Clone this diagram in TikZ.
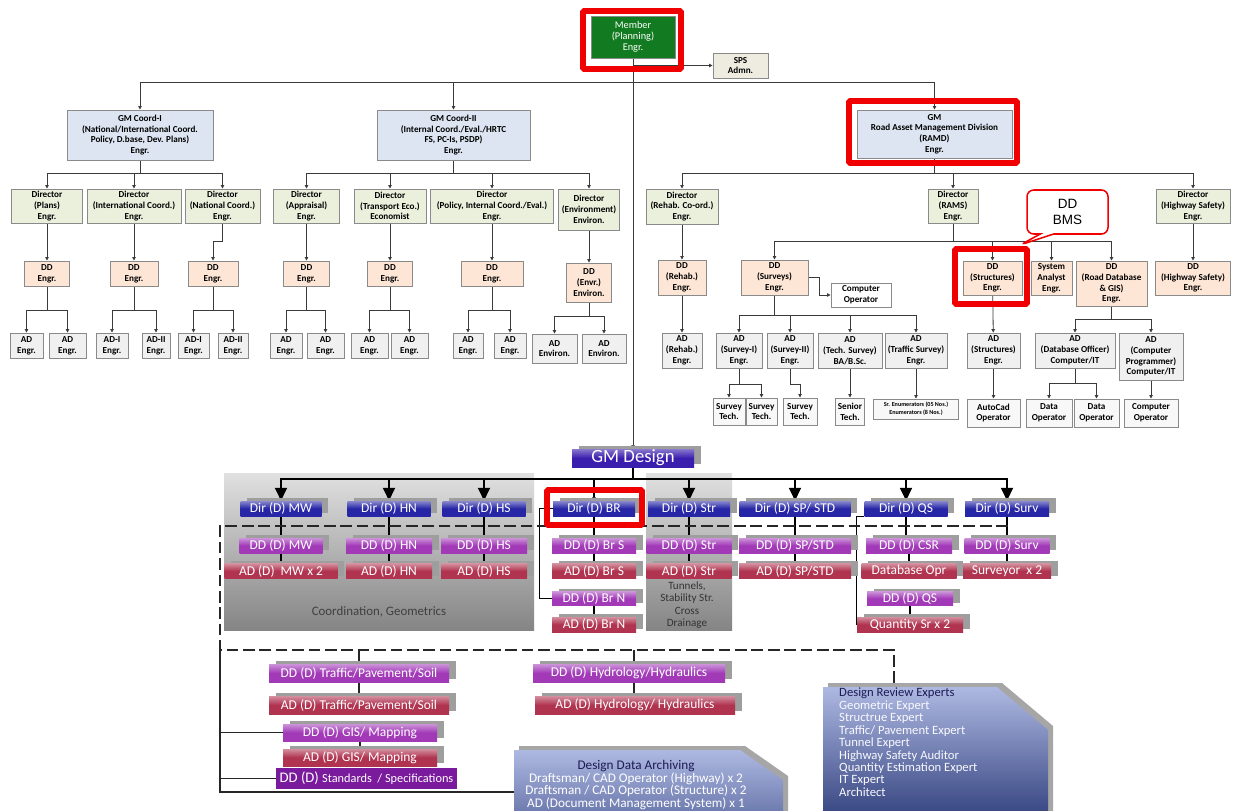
\documentclass[tikz,border=0pt]{standalone}
\usepackage{fontspec}
\setmainfont{Carlito}
\newfontfamily\bmsfont{Liberation Sans}
\usetikzlibrary{arrows.meta,shadows,shapes.callouts}

\definecolor{gmfill}{HTML}{DCE5F1}
\definecolor{dirfill}{HTML}{EBF0DD}
\definecolor{ddfill}{HTML}{FDE6D6}
\definecolor{adfill}{HTML}{F0F0F0}
\definecolor{opfill}{HTML}{F8F8F8}
\definecolor{spsfill}{HTML}{EEECE1}
\definecolor{memgreen}{HTML}{127A20}
\definecolor{boxline}{HTML}{8A8A8A}
\definecolor{linegray}{HTML}{3A3A3A}
\definecolor{hlred}{HTML}{F00000}
\definecolor{dirblue}{HTML}{2626A6}
\definecolor{ddpurple}{HTML}{A23AB8}
\definecolor{adred}{HTML}{B0334F}
\definecolor{gmdblue}{HTML}{3A1EAE}
\definecolor{stdpurple}{HTML}{7A1A9C}
\definecolor{revtop}{HTML}{AEB9E2}
\definecolor{revbot}{HTML}{3A4884}
\definecolor{revhead}{HTML}{1C1C55}

\pgfdeclarelayer{panel}
\pgfdeclarelayer{edges}
\pgfsetlayers{panel,edges,main}

\begin{document}
\begin{tikzpicture}[x=0.03cm, y=-0.03cm,
    >={Triangle[length=3pt,width=3pt]},
    sz/.style 2 args={minimum width=#1*0.03cm, minimum height=#2*0.03cm},
    org/.style={draw=boxline, line width=0.8pt, inner sep=0pt, align=center,
      font=\bfseries\fontsize{7.8}{9.2}\selectfont},
    gmbox/.style={org, fill=gmfill},
    dirbox/.style={org, fill=dirfill},
    ddbox/.style={org, fill=ddfill},
    adbox/.style={org, fill=adfill},
    opbox/.style={org, fill=opfill},
    conn/.style={draw=linegray, line width=0.7pt},
    dsgn/.style={inner sep=0pt, align=center, text=white,
      font=\fontsize{11.5}{13}\selectfont,
      drop shadow={shadow xshift=0.2cm, shadow yshift=0.09cm, fill=black!38, opacity=1}},
    dirdbox/.style={dsgn, top color=dirblue!55!white, bottom color=dirblue, middle color=dirblue},
    dddbox/.style={dsgn, top color=ddpurple!55!white, bottom color=ddpurple, middle color=ddpurple},
    addbox/.style={dsgn, top color=adred!55!white, bottom color=adred, middle color=adred},
    lnk/.style={draw=black, line width=0.9pt},
    lnkb/.style={draw=black!85, line width=1.3pt},
    bigln/.style={draw=black, line width=2.2pt},
    bigarr/.style={bigln, -{Triangle[length=11pt,width=10pt]}},
    dsh/.style={draw=black!85, line width=2pt, dash pattern=on 10pt off 4pt},
    hl/.style={draw=hlred, line width=5pt, rounded corners=1pt},
  ]
\useasboundingbox (0,0) rectangle (1233,810);

% Panels
\begin{pgfonlayer}{panel}
\fill[white] (0,0) rectangle (1233,810);
\shade[top color=black!12, bottom color=black!48] (224,473) rectangle (534,630);
\shade[top color=black!12, bottom color=black!48] (646,473) rectangle (732,630);
\end{pgfonlayer}

% Nodes: planning chart
\node[org, fill=memgreen, text=white, font=\fontsize{8.8}{9.2}\selectfont, sz={84}{42}] (member) at (633,37) {Member\\(Planning)\\Engr.};
\node[org, fill=spsfill, sz={55}{25}] (sps) at (740.5,65.5) {SPS\\Admn.};

\node[gmbox, sz={146}{50}] (gmc1) at (140,135) {GM Coord-I\\(National/International Coord.\\Policy, D.base, Dev. Plans)\\Engr.};
\node[gmbox, sz={153}{50}] (gmc2) at (453.5,135) {GM Coord-II\\(Internal Coord./Eval./HRTC\\FS, PC-Is, PSDP)\\Engr.};
\node[gmbox, sz={155}{48}] (gmram) at (934.5,134) {GM\\Road Asset Management Division\\(RAMD)\\Engr.};

\node[dirbox, sz={71}{34}] (dplans) at (47,206) {Director\\(Plans)\\Engr.};
\node[dirbox, sz={94}{34}] (dintl) at (134,206) {Director\\(International Coord.)\\Engr.};
\node[dirbox, sz={75}{34}] (dnat) at (222.5,206) {Director\\(National Coord.)\\Engr.};
\node[dirbox, sz={66}{34}] (dappr) at (306.5,206) {Director\\(Appraisal)\\Engr.};
\node[dirbox, sz={72}{34}] (dtrans) at (390,206) {Director\\(Transport Eco.)\\Economist};
\node[dirbox, sz={123}{34}] (dpol) at (492,206) {Director\\(Policy, Internal Coord./Eval.)\\Engr.};
\node[dirbox, sz={61}{41}] (denv) at (589,209.5) {Director\\(Environment)\\Environ.};
\node[dirbox, sz={72}{35}] (drehab) at (682,206.5) {Director\\(Rehab. Co-ord.)\\Engr.};
\node[dirbox, sz={50}{34}] (drams) at (953,206) {Director\\(RAMS)\\Engr.};
\node[dirbox, sz={74}{34}] (dhws) at (1193,206) {Director\\(Highway Safety)\\Engr.};

\node[ddbox, sz={45}{25}] (ddplans) at (47,273.5) {DD\\Engr.};
\node[ddbox, sz={48}{25}] (ddintl) at (134,273.5) {DD\\Engr.};
\node[ddbox, sz={50}{25}] (ddnat) at (213,273.5) {DD\\Engr.};
\node[ddbox, sz={46}{25}] (ddappr) at (306.5,273.5) {DD\\Engr.};
\node[ddbox, sz={45}{25}] (ddtrans) at (390,273.5) {DD\\Engr.};
\node[ddbox, sz={62}{25}] (ddpol) at (492,273.5) {DD\\Engr.};
\node[ddbox, sz={45}{39}] (ddenv) at (589,282.5) {DD\\(Envr.)\\Environ.};
\node[ddbox, sz={48}{35}] (ddrehab) at (682,277.5) {DD\\(Rehab.)\\Engr.};
\node[ddbox, sz={67}{35}] (ddsurv) at (774.5,277.5) {DD\\(Surveys)\\Engr.};
\node[org, fill=white, sz={60}{24}] (cop1) at (861,295) {Computer\\Operator};
\node[ddbox, sz={59}{34}] (ddstr) at (992.5,278) {DD\\(Structures)\\Engr.};
\node[ddbox, sz={41}{34}] (sysan) at (1051.5,278) {System\\Analyst\\Engr.};
\node[ddbox, sz={71}{45}] (ddrdb) at (1111.5,283.5) {DD\\(Road Database\\\& GIS)\\Engr.};
\node[ddbox, sz={75}{34}] (ddhws) at (1193,278) {DD\\(Highway Safety)\\Engr.};

\node[adbox, sz={33}{25}] (ad1a) at (26.5,345.5) {AD\\Engr.};
\node[adbox, sz={37}{25}] (ad1b) at (67.5,345.5) {AD\\Engr.};
\node[adbox, sz={32}{25}] (ad2a) at (112,345.5) {AD-I\\Engr.};
\node[adbox, sz={28}{25}] (ad2b) at (156,345.5) {AD-II\\Engr.};
\node[adbox, sz={31}{25}] (ad3a) at (193.5,345.5) {AD-I\\Engr.};
\node[adbox, sz={30}{25}] (ad3b) at (233,345.5) {AD-II\\Engr.};
\node[adbox, sz={32}{25}] (ad4a) at (286,345.5) {AD\\Engr.};
\node[adbox, sz={37}{25}] (ad4b) at (325.5,345.5) {AD\\Engr.};
\node[adbox, sz={37}{25}] (ad5a) at (369.5,345.5) {AD\\Engr.};
\node[adbox, sz={37}{25}] (ad5b) at (409.5,345.5) {AD\\Engr.};
\node[adbox, sz={30}{25}] (ad6a) at (468,345.5) {AD\\Engr.};
\node[adbox, sz={32}{25}] (ad6b) at (510,345.5) {AD\\Engr.};
\node[adbox, sz={45}{29}] (ad7a) at (554.5,348.5) {AD\\Environ.};
\node[adbox, sz={44}{29}] (ad7b) at (604,348.5) {AD\\Environ.};
\node[adbox, sz={40}{35}] (adrehab) at (682,350.5) {AD\\(Rehab.)\\Engr.};
\node[adbox, sz={46}{35}] (adsv1) at (739,350.5) {AD\\(Survey-I)\\Engr.};
\node[adbox, sz={46}{35}] (adsv2) at (790,350.5) {AD\\(Survey-II)\\Engr.};
\node[adbox, sz={64}{35}] (adtech) at (850,350.5) {AD\\(Tech. Survey)\\BA/B.Sc.};
\node[adbox, sz={62}{35}] (adtraf) at (916,350.5) {AD\\(Traffic Survey)\\Engr.};
\node[adbox, sz={53}{35}] (adstr) at (993.5,350.5) {AD\\(Structures)\\Engr.};
\node[adbox, sz={80}{35}] (addbo) at (1075,350.5) {AD\\(Database Officer)\\Computer/IT};
\node[adbox, sz={64}{47}] (adcp) at (1151,356.5) {AD\\(Computer\\Programmer)\\Computer/IT};

\node[opbox, sz={32}{27}] (st1) at (729,411.5) {Survey\\Tech.};
\node[opbox, sz={31}{27}] (st2) at (761.5,411.5) {Survey\\Tech.};
\node[opbox, sz={34}{27}] (st3) at (800,411.5) {Survey\\Tech.};
\node[opbox, sz={29}{27}] (sentech) at (850,411.5) {Senior\\Tech.};
\node[opbox, sz={85}{20}, font=\bfseries\fontsize{5.2}{7}\selectfont] (enum) at (916,409) {Sr. Enumerators (05 Nos.)\\Enumerators (8 Nos.)};
\node[opbox, sz={53}{28}] (autocad) at (993.5,413) {AutoCad\\Operator};
\node[opbox, sz={46}{28}] (dop1) at (1049,413) {Data\\Operator};
\node[opbox, sz={45}{28}] (dop2) at (1096.5,413) {Data\\Operator};
\node[opbox, sz={54}{28}] (cop2) at (1151,413) {Computer\\Operator};

% Nodes: design chart
\node[dsgn, top color=gmdblue!60!white, bottom color=gmdblue, middle color=gmdblue, font=\fontsize{16}{17}\selectfont, sz={122}{18}] (gmdesign) at (633,458) {GM Design};

\node[dirdbox, sz={81}{15}] (dirmw) at (281,508.5) {Dir (D) MW};
\node[dirdbox, sz={83}{15}] (dirhn) at (389,508.5) {Dir (D) HN};
\node[dirdbox, sz={83}{15}] (dirhs) at (484,508.5) {Dir (D) HS};
\node[dirdbox, sz={82}{15}] (dirbr) at (594,508.5) {Dir (D) BR};
\node[dirdbox, sz={82}{15}] (dirstr) at (689,508.5) {Dir (D) Str};
\node[dirdbox, sz={111}{15}] (dirsp) at (795,508.5) {Dir (D) SP/ STD};
\node[dirdbox, sz={83}{15}] (dirqs) at (906,508.5) {Dir (D) QS};
\node[dirdbox, sz={84}{15}] (dirsurv) at (1007,508.5) {Dir (D) Surv};

\node[dddbox, sz={83}{15}] (ddmw) at (281,545.5) {DD (D) MW};
\node[dddbox, sz={86}{15}] (ddhn) at (389,545.5) {DD (D) HN};
\node[dddbox, sz={86}{15}] (ddhs) at (484,545.5) {DD (D) HS};
\node[dddbox, sz={84}{15}] (ddbrs) at (594,545.5) {DD (D) Br S};
\node[dddbox, sz={85}{15}] (ddstrd) at (689,545.5) {DD (D) Str};
\node[dddbox, sz={112}{15}] (ddsp) at (795,545.5) {DD (D) SP/STD};
\node[dddbox, sz={86}{15}] (ddcsr) at (909,545.5) {DD (D) CSR};
\node[dddbox, sz={85}{15}] (ddsv) at (1007,545.5) {DD (D) Surv};

\node[addbox, sz={113}{15}] (admw) at (281,571) {AD (D)\ \ MW x 2};
\node[addbox, sz={86}{15}] (adhn) at (389,571) {AD (D) HN};
\node[addbox, sz={86}{15}] (adhs) at (484,571) {AD (D) HS};
\node[addbox, sz={84}{15}] (adbrs) at (594,571) {AD (D) Br S};
\node[addbox, sz={85}{15}] (adstrd) at (689,571) {AD (D) Str};
\node[addbox, sz={112}{15}] (adsp) at (795,571) {AD (D) SP/STD};
\node[addbox, sz={95}{15}] (dbopr) at (909,571) {Database Opr};
\node[addbox, sz={88}{15}] (survr) at (1007,571) {Surveyor\ \ x 2};

\node[dddbox, sz={84}{14}] (ddbrn) at (594,598.5) {DD (D) Br N};
\node[dddbox, sz={86}{14}] (ddqs) at (910,598.5) {DD (D) QS};
\node[addbox, sz={84}{15}] (adbrn) at (594,624.5) {AD (D) Br N};
\node[addbox, sz={106}{15}] (qsr) at (910,624.5) {Quantity Sr x 2};

\node[font=\fontsize{11}{12}\selectfont, text=black!75] (coord) at (379,612) {Coordination, Geometrics};
\node[align=center, font=\fontsize{9.5}{10.4}\selectfont, text=black!80] (tunnels) at (687,605) {Tunnels,\\Stability Str.\\Cross\\Drainage};

\node[dddbox, sz={180}{18}] (ddtraf) at (359,673) {DD (D) Traffic/Pavement/Soil};
\node[addbox, sz={180}{18}] (adtrf) at (359,705) {AD (D) Traffic/Pavement/Soil};
\node[dddbox, sz={192}{18}] (ddhyd) at (629,673) {DD (D) Hydrology/Hydraulics};
\node[addbox, sz={200}{18}] (adhyd) at (635,705) {AD (D) Hydrology/ Hydraulics};
\node[dddbox, sz={154}{17}] (ddgis) at (360,732.5) {DD (D) GIS/ Mapping};
\node[addbox, sz={154}{17}] (adgis) at (360,757.5) {AD (D) GIS/ Mapping};
\node[inner sep=0pt, fill=stdpurple, text=white, sz={181}{21}] (ddstd) at (366.5,778.5) {\fontsize{12.5}{14}\selectfont DD (D) \fontsize{10.5}{12}\selectfont Standards\ \ /\ Specifications};

% Archive and review boxes
\fill[black!35] (519,746) -- (745,746) -- (788,776) -- (788,812) -- (519,812) -- cycle;
\shade[top color=revtop, bottom color=revtop!45!revbot] (514,750) -- (740,750) -- (783,780) -- (783,812) -- (514,812) -- cycle;
\node[align=center, inner sep=0pt, text=white, font=\fontsize{11.3}{10.6}\selectfont] (archive) at (636,785) {\textcolor{revhead}{Design Data Archiving}\\Draftsman/ CAD Operator (Highway) x 2\\Draftsman / CAD Operator (Structure) x 2\\AD (Document Management System) x 1};

\fill[black!35] (828,683) -- (1002,683) -- (1053,726) -- (1053,812) -- (828,812) -- cycle;
\shade[top color=revtop, bottom color=revbot] (823,687) -- (997,687) -- (1048,730) -- (1048,812) -- (823,812) -- cycle;
\node[anchor=north west, align=left, inner sep=0pt, text=white!92!revtop, font=\fontsize{10.8}{10.6}\selectfont] (review) at (839,688) {\textcolor{revhead}{Design Review Experts}\\Geometric Expert\\Structrue Expert\\Traffic/ Pavement Expert\\Tunnel Expert\\Highway Safety Auditor\\Quantity Estimation Expert\\IT Expert\\Architect};

% Edges
\begin{pgfonlayer}{edges}
\draw[conn, ->] (member) -- (gmdesign);
\draw[conn, ->] (member.south |- sps.west) -- (sps.west);
\coordinate (topbus) at (633,82);
\draw[conn, ->] (topbus) -| (gmc1);
\draw[conn, ->] (topbus) -| (gmc2);
\draw[conn, ->] (topbus) -| (gmram);

\draw[conn, ->] (gmc1.south) -- ++(0,13) -| (dplans);
\draw[conn, ->] (gmc1.south) -- ++(0,13) -| (dintl);
\draw[conn, ->] (gmc1.south) -- ++(0,13) -| (dnat);
\draw[conn, ->] (gmc2.south) -- ++(0,13) -| (dappr);
\draw[conn, ->] (gmc2.south) -- ++(0,13) -| (dtrans);
\draw[conn, ->] (gmc2.south) -- ++(0,13) -| (dpol);
\draw[conn, ->] (gmc2.south) -- ++(0,13) -| (denv);
\draw[conn, ->] (gmram.south) -- ++(0,15) -| (drehab);
\draw[conn, ->] (gmram.south) -- ++(0,15) -| (drams);
\draw[conn, ->] (gmram.south) -- ++(0,15) -| (dhws);

\draw[conn, ->] (dplans) -- (ddplans);
\draw[conn, ->] (dintl) -- (ddintl);
\draw[conn, ->] (dnat.south) -- ++(0,18) -| (ddnat);
\draw[conn, ->] (dappr) -- (ddappr);
\draw[conn, ->] (dtrans) -- (ddtrans);
\draw[conn, ->] (dpol) -- (ddpol);
\draw[conn, ->] (denv) -- (ddenv);
\draw[conn, ->] (drehab) -- (ddrehab);
\draw[conn, ->] (drams.south) -- ++(0,18) -| (ddsurv);
\draw[conn, ->] (drams.south) -- ++(0,18) -| (ddstr);
\draw[conn, ->] (drams.south) -- ++(0,18) -| (sysan);
\draw[conn, ->] (drams.south) -- ++(0,18) -| (ddrdb);
\draw[conn, ->] (dhws) -- (ddhws);

\draw[conn, ->] (ddplans.south) -- ++(0,24) -| (ad1a);
\draw[conn, ->] (ddplans.south) -- ++(0,24) -| (ad1b);
\draw[conn, ->] (ddintl.south) -- ++(0,24) -| (ad2a);
\draw[conn, ->] (ddintl.south) -- ++(0,24) -| (ad2b);
\draw[conn, ->] (ddnat.south) -- ++(0,24) -| (ad3a);
\draw[conn, ->] (ddnat.south) -- ++(0,24) -| (ad3b);
\draw[conn, ->] (ddappr.south) -- ++(0,24) -| (ad4a);
\draw[conn, ->] (ddappr.south) -- ++(0,24) -| (ad4b);
\draw[conn, ->] (ddtrans.south) -- ++(0,24) -| (ad5a);
\draw[conn, ->] (ddtrans.south) -- ++(0,24) -| (ad5b);
\draw[conn, ->] (ddpol.south) -- ++(0,24) -| (ad6a);
\draw[conn, ->] (ddpol.south) -- ++(0,24) -| (ad6b);
\draw[conn, ->] (ddenv.south) -- ++(0,14) -| (ad7a);
\draw[conn, ->] (ddenv.south) -- ++(0,14) -| (ad7b);
\draw[conn, ->] (ddrehab) -- (adrehab);
\draw[conn, ->] (ddsurv.south) -- ++(0,20) -| (adsv1);
\draw[conn, ->] (ddsurv.south) -- ++(0,20) -| (adsv2);
\draw[conn, ->] (ddsurv.south) -- ++(0,20) -| (adtech);
\draw[conn, ->] (ddsurv.south) -- ++(0,20) -| (adtraf);
\draw[conn, ->] (ddsurv.east) -- ++(11,0) |- (cop1.west);
\draw[conn, ->] (ddstr) -- (adstr);
\draw[conn, ->] (ddrdb.south) -- ++(0,13) -| (addbo);
\draw[conn, ->] (ddrdb.south) -- ++(0,13) -| (adcp);

\draw[conn, ->] (adsv1.south) -- ++(0,16) -| (st1);
\draw[conn, ->] (adsv1.south) -- ++(0,16) -| (st2);
\draw[conn, ->] (adsv2.south) -- ++(0,16) -| (st3);
\draw[conn, ->] (adtech) -- (sentech);
\draw[conn, ->] (adtraf) -- (enum);
\draw[conn, ->] (adstr) -- (autocad);
\draw[conn, ->] (addbo.south) -- ++(0,15) -| (dop1);
\draw[conn, ->] (addbo.south) -- ++(0,15) -| (dop2);
\draw[conn, ->] (adcp) -- (cop2);

\coordinate (dbus) at (633,479);
\draw[bigln] (gmdesign) -- (dbus);
\draw[bigarr] (dbus) -| (dirmw);
\draw[bigarr] (dbus) -| (dirhn);
\draw[bigarr] (dbus) -| (dirhs);
\draw[lnk, ->] (dbus) -| (dirbr);
\draw[bigarr] (dbus) -| (dirstr);
\draw[bigarr] (dbus) -| (dirsp);
\draw[bigarr] (dbus) -| (dirqs);
\draw[bigarr] (dbus) -| (dirsurv);

\draw[lnk] (dirmw) -- (admw);
\draw[lnk] (dirhn) -- (adhn);
\draw[lnk] (dirhs) -- (adhs);
\draw[lnk] (dirbr) -- (adbrs);
\draw[lnk] (dirstr) -- (adstrd);
\draw[lnk] (dirsp) -- (adsp);
\draw[lnk] (dirqs.south) -- ++(0,20) -| (dbopr);
\draw[lnk] (dirsurv) -- (survr);
\draw[lnk] (ddbrn) -- (adbrn);
\draw[lnk] (ddqs) -- (qsr);
\draw[lnk] (dirbr.west) -- ++(-13,0) |- (ddbrn.west);
\draw[lnk] (dirqs.south west) -- ++(-8,0) |- (qsr.west);

\coordinate (dshr) at (1008,526);
\coordinate (dshl) at (220,526);
\coordinate (dshm) at (220,650);
\coordinate (dshe) at (894,650);
\coordinate (revin) at (894,687);
\coordinate (dshb) at (220,792);
\coordinate (arcin) at (514,792);
\coordinate (hydtop) at (634,650);
\draw[dsh] (dshr) -- (dshl) -- (dshm) -- (dshe) -- (revin);
\draw[lnkb] (dshm) -- (dshb) -- (arcin);
\draw[lnkb] (dshm |- ddgis) -- (ddgis);
\draw[lnkb] (dshm |- ddstd) -- (ddstd);
\draw[lnkb] (ddtraf |- dshm) -- (adtrf);
\draw[lnkb] (ddgis) -- (adgis);
\draw[lnkb] (hydtop) -- (hydtop |- adhyd.north);
\end{pgfonlayer}

% Highlights
\draw[hl] (583,11) rectangle (681,69);
\draw[hl] (849,101) rectangle (1017,163);
\draw[hl] (955,249) rectangle (1027,304);
\draw[hl] (547,490) rectangle (642,525);
\node[rectangle callout, draw=hlred, line width=1.3pt, fill=white, rounded corners=0.2cm,
  callout absolute pointer={(1020,245)}, callout pointer width=0.4cm, align=center,
  font=\bmsfont\fontsize{11.5}{13.6}\selectfont, sz={81}{44}] (bms) at (1067.5,212) {DD\\BMS};
\end{tikzpicture}
\end{document}
